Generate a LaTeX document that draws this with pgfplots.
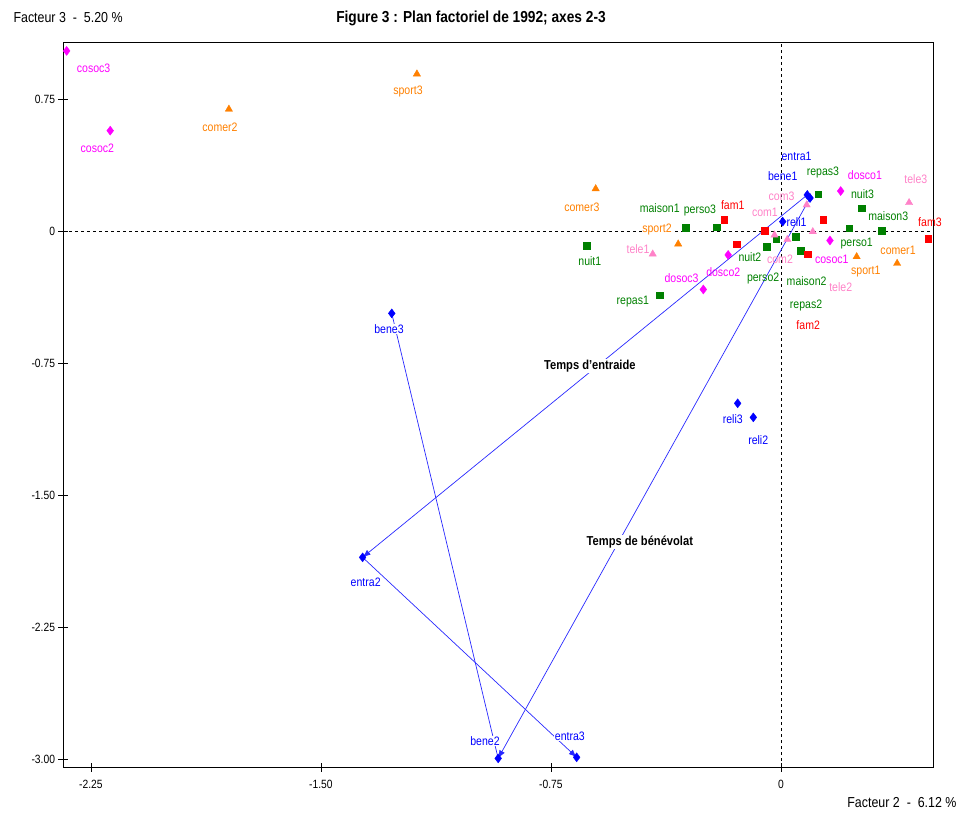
\documentclass[border=0pt]{standalone}
\usepackage{fontspec}
\setmainfont{Liberation Sans}[FakeStretch=0.86]
\usepackage{pgfplots}
\pgfplotsset{compat=1.18}
\usetikzlibrary{arrows.meta}
\definecolor{cgreen}{RGB}{0,128,0}
\definecolor{cred}{RGB}{255,0,0}
\definecolor{cmag}{RGB}{255,0,255}
\definecolor{corange}{RGB}{255,128,0}
\definecolor{cpink}{RGB}{255,130,200}
\definecolor{cblue}{RGB}{0,0,255}
\definecolor{cline}{RGB}{40,40,255}
\tikzset{lab/.style={font=\fontsize{12.3}{14}\selectfont,inner sep=0.5bp},
  labw/.style={lab,fill=white}}
\begin{document}
\begin{tikzpicture}
\path[use as bounding box] (-63bp,-48bp) rectangle (901bp,767bp);
\begin{axis}[at={(0,0)},anchor=south west,scale only axis,
  width=870bp,height=724bp,
  xmin=-2.341,xmax=0.496,ymin=-3.045,ymax=1.068,
  axis line style={line width=1bp},
  xtick={-2.25,-1.5,-0.75,0},xticklabels={-2.25,-1.50,-0.75,0},
  ytick={-3,-2.25,-1.5,-0.75,0,0.75},yticklabels={-3.00,-2.25,-1.50,-0.75,0,0.75},
  xtick pos=bottom,ytick pos=left,tick align=center,major tick length=9bp,
  tick style={black,line width=0.8bp},
  ticklabel style={font=\fontsize{12}{14}\selectfont},
  xticklabel style={yshift=-5bp},
  clip=false,
]
% zero lines
\addplot[black,dash pattern=on 3bp off 3bp,line width=0.8bp] coordinates {(-2.341,0) (0.496,0)};
\addplot[black,dash pattern=on 3bp off 3bp,line width=0.8bp] coordinates {(0,-3.045) (0,1.068)};
% trajectories
\addplot[cline,line width=0.7bp,-{Latex[length=8bp,width=6bp]}] coordinates {(0.086,0.205) (-1.364,-1.854)};
\addplot[cline,line width=0.7bp,-{Latex[length=8bp,width=6bp]}] coordinates {(-1.364,-1.854) (-0.666,-2.990)};
\addplot[cline,line width=0.7bp,-{Latex[length=8bp,width=6bp]}] coordinates {(0.095,0.1875) (-0.922,-2.996)};
\addplot[cline,line width=0.7bp] coordinates {(-1.269,-0.468) (-0.922,-2.996)};
% labels
\node[labw,font=\fontsize{13}{15}\selectfont\bfseries] at (axis cs:-0.623,-0.767) {Temps d'entraide};
\node[labw,font=\fontsize{13}{15}\selectfont\bfseries] at (axis cs:-0.460,-1.767) {Temps de bénévolat};
\node[labw,text=cblue] at (axis cs:-1.278,-0.557) {bene3};
\node[labw,text=cblue] at (axis cs:-1.354,-1.994) {entra2};
\node[labw,text=cblue] at (axis cs:-0.965,-2.896) {bene2};
\node[labw,text=cblue] at (axis cs:-0.688,-2.869) {entra3};
\node[lab,text=cblue] at (axis cs:0.051,0.426) {entra1};
\node[lab,text=cblue] at (axis cs:0.006,0.3125) {bene1};
\node[lab,text=cblue] at (axis cs:0.051,0.053) {reli1};
\node[lab,text=cblue] at (axis cs:-0.157,-1.070) {reli3};
\node[lab,text=cblue] at (axis cs:-0.074,-1.1875) {reli2};
\node[lab,text=cpink] at (axis cs:0.002,0.199) {com3};
\node[lab,text=cpink] at (axis cs:-0.052,0.104) {com1};
\node[lab,text=cpink] at (axis cs:-0.003,-0.161) {com2};
\node[lab,text=cpink] at (axis cs:-0.466,-0.102) {tele1};
\node[lab,text=cpink] at (axis cs:0.195,-0.320) {tele2};
\node[lab,text=cpink] at (axis cs:0.440,0.294) {tele3};
\node[lab,text=cred] at (axis cs:-0.157,0.148) {fam1};
\node[lab,text=cred] at (axis cs:0.089,-0.534) {fam2};
\node[lab,text=cred] at (axis cs:0.486,0.053) {fam3};
\node[lab,text=cgreen] at (axis cs:-0.264,0.114) {perso3};
\node[lab,text=cgreen] at (axis cs:-0.395,0.131) {maison1};
\node[lab,text=cgreen] at (axis cs:-0.623,-0.169) {nuit1};
\node[lab,text=cgreen] at (axis cs:-0.483,-0.402) {repas1};
\node[lab,text=cgreen] at (axis cs:-0.101,-0.149) {nuit2};
\node[lab,text=cgreen] at (axis cs:-0.058,-0.269) {perso2};
\node[lab,text=cgreen] at (axis cs:0.084,-0.282) {maison2};
\node[lab,text=cgreen] at (axis cs:0.082,-0.424) {repas2};
\node[lab,text=cgreen] at (axis cs:0.247,-0.070) {perso1};
\node[lab,text=cgreen] at (axis cs:0.350,0.085) {maison3};
\node[lab,text=cgreen] at (axis cs:0.266,0.209) {nuit3};
\node[lab,text=cgreen] at (axis cs:0.137,0.331) {repas3};
\node[lab,text=cmag] at (axis cs:-0.324,-0.265) {dosoc3};
\node[lab,text=cmag] at (axis cs:-0.188,-0.235) {dosco2};
\node[lab,text=cmag] at (axis cs:0.166,-0.159) {cosoc1};
\node[lab,text=cmag] at (axis cs:0.274,0.318) {dosco1};
\node[lab,text=cmag] at (axis cs:-2.241,0.926) {cosoc3};
\node[lab,text=cmag] at (axis cs:-2.229,0.468) {cosoc2};
\node[labw,text=corange] at (axis cs:-0.404,0.011) {sport2};
\node[lab,text=corange] at (axis cs:0.277,-0.231) {sport1};
\node[lab,text=corange] at (axis cs:0.382,-0.108) {comer1};
\node[lab,text=corange] at (axis cs:-1.829,0.591) {comer2};
\node[lab,text=corange] at (axis cs:-1.216,0.790) {sport3};
\node[lab,text=corange] at (axis cs:-0.649,0.136) {comer3};
% markers
\addplot[only marks,mark=square*,mark size=3.3bp,color=cgreen] table {
x y
-0.634 -0.085
-0.310 0.017
-0.210 0.021
-0.395 -0.364
-0.047 -0.089
-0.016 -0.047
0.048 -0.032
0.064 -0.112
0.121 0.209
0.263 0.129
0.223 0.015
0.328 0.002
};
\addplot[only marks,mark=square*,mark size=3.3bp,color=cred] table {
x y
-0.185 0.0625
-0.144 -0.074
-0.052 0.0
0.138 0.0625
0.087 -0.132
0.480 -0.044
};
\addplot[only marks,mark=diamond*,mark size=4.5bp,color=cmag] table {
x y
-2.329 1.023
-2.187 0.570
0.195 0.227
0.160 -0.054
-0.172 -0.136
-0.253 -0.332
};
\addplot[only marks,mark=triangle*,mark size=4.2bp,color=corange] table {
x y
-1.800 0.692
-1.187 0.892
-0.604 0.240
-0.335 -0.074
0.247 -0.146
0.379 -0.184
};
\addplot[only marks,mark=triangle*,mark size=4.2bp,color=cpink] table {
x y
-0.418 -0.131
-0.021 -0.023
0.021 -0.048
0.104 -0.004
0.084 0.148
0.418 0.161
};
\addplot[only marks,mark=diamond*,mark size=4.5bp,color=cblue] table {
x y
0.086 0.205
0.095 0.1875
0.006 0.053
-0.141 -0.979
-0.090 -1.059
-1.269 -0.468
-1.364 -1.854
-0.922 -2.996
-0.666 -2.990
};
% titles
\node[font=\fontsize{16}{18}\selectfont\bfseries] at ([xshift=-27bp,yshift=25bp]rel axis cs:0.5,1) {Figure 3 : Plan factoriel de 1992; axes 2-3};
\node[anchor=west,font=\fontsize{14.5}{16}\selectfont] at ([xshift=-53bp,yshift=25bp]rel axis cs:0,1) {Facteur 3 \ -\ \ 5.20 \%};
\node[anchor=east,font=\fontsize{14.5}{16}\selectfont] at ([xshift=27bp,yshift=-36bp]rel axis cs:1,0) {Facteur 2 \ -\ \ 6.12 \%};
\end{axis}
\end{tikzpicture}
\end{document}
